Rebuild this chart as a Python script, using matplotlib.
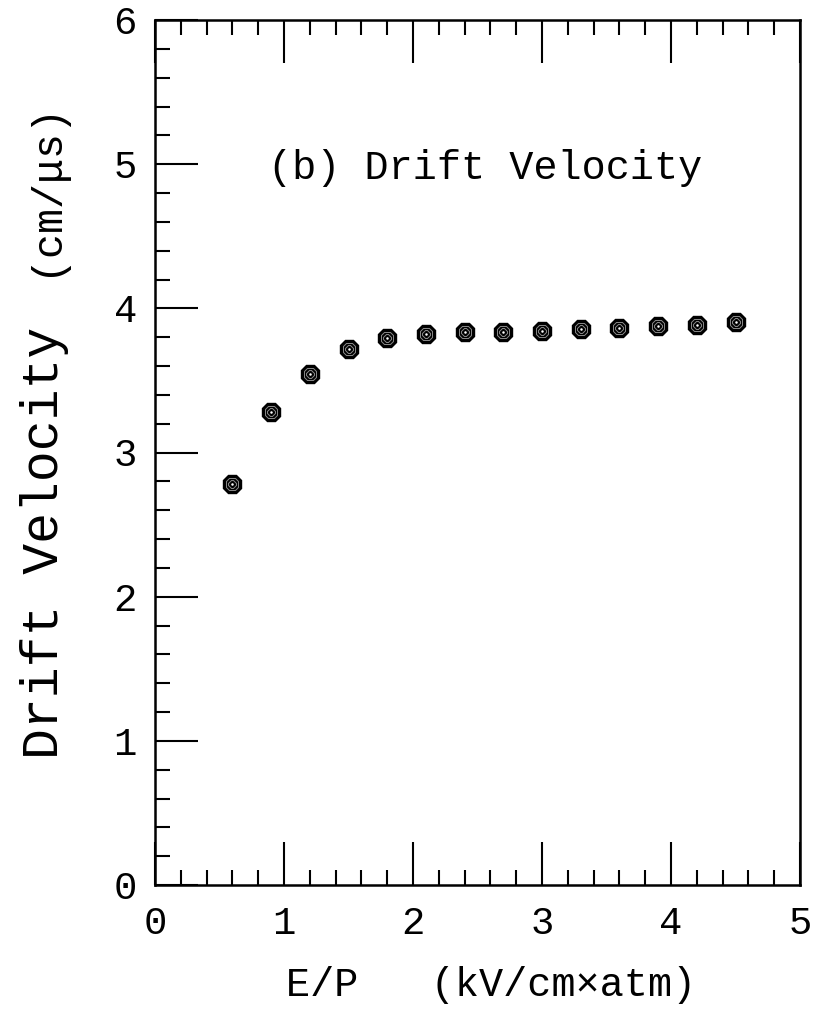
import matplotlib
matplotlib.use("Agg")
import matplotlib.pyplot as plt
from matplotlib.ticker import MultipleLocator

plt.rcParams['font.family'] = ['Liberation Mono', 'DejaVu Sans Mono']
plt.rcParams['axes.unicode_minus'] = False

ep = [0.6, 0.9, 1.2, 1.5, 1.8, 2.1, 2.4, 2.7, 3.0, 3.3, 3.6, 3.9, 4.2, 4.5]
velocity = [2.78, 3.28, 3.545, 3.72, 3.795, 3.82, 3.835, 3.835, 3.84, 3.86, 3.865, 3.875, 3.885, 3.905]

x_label = "E/P   (kV/cm\u00d7atm)"
y_label_main = "Drift Velocity"
y_label_unit = "(cm/\u03bcs)"
panel_text = "(b) Drift Velocity"

fig = plt.figure(figsize=(8.24, 10.11), dpi=100)
ax = fig.add_axes([155/824, 1-885/1011, 645/824, 865/1011])

ax.set_xlim(0, 5)
ax.set_ylim(0, 6)

# layered octagon markers
ax.plot(ep, velocity, ls='none', marker='8', ms=14, mfc='black', mec='black', mew=1.0, zorder=3)
ax.plot(ep, velocity, ls='none', marker='8', ms=9.5, mfc='none', mec='#8a8a8a', mew=0.7, zorder=4)
ax.plot(ep, velocity, ls='none', marker='8', ms=5.5, mfc='none', mec='#8a8a8a', mew=0.7, zorder=4)
ax.plot(ep, velocity, ls='none', marker='o', ms=1.8, mfc='white', mec='white', mew=0, zorder=5)

ax.xaxis.set_major_locator(MultipleLocator(1))
ax.xaxis.set_minor_locator(MultipleLocator(0.2))
ax.yaxis.set_major_locator(MultipleLocator(1))
ax.yaxis.set_minor_locator(MultipleLocator(0.2))

ax.tick_params(axis='x', which='both', direction='in', top=True, bottom=True)
ax.tick_params(axis='y', which='both', direction='in', left=True, right=False)
ax.tick_params(which='major', length=31, width=1.5, labelsize=28)
ax.tick_params(which='minor', length=11, width=1.5)
ax.tick_params(axis='x', which='major', pad=15)
ax.tick_params(axis='y', which='major', pad=13)

for s in ax.spines.values():
    s.set_linewidth(1.8)

ax.text(0.876, 4.97, panel_text, fontsize=29, va='center', ha='left')

fig.text(491/824, 1-985/1011, x_label, fontsize=29, ha='center', va='center')
fig.text(45/824, 1-543/1011, y_label_main, fontsize=37, ha='center', va='center', rotation=90)
fig.text(45/824, 1-188/1011, y_label_unit, fontsize=30, ha='center', va='center', rotation=90)

fig.savefig("out.png", dpi=100)
